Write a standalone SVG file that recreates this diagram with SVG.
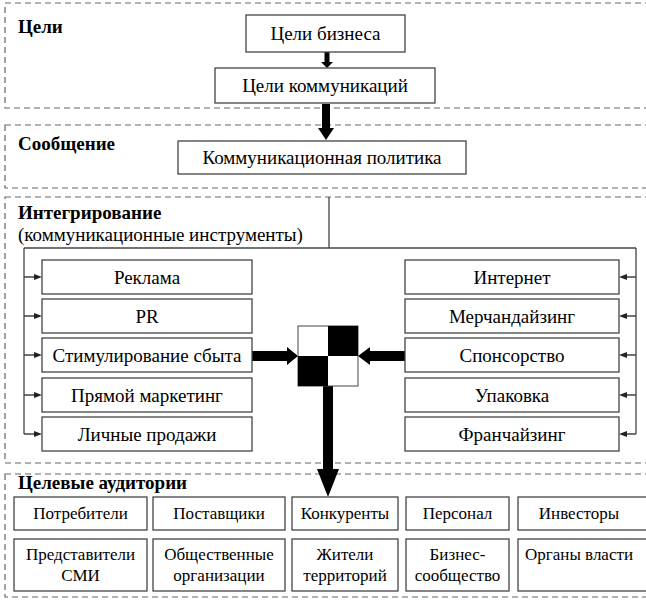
<svg xmlns="http://www.w3.org/2000/svg" width="646" height="601" viewBox="0 0 646 601">
<rect width="646" height="601" fill="#fff"/>

<g id="sections" fill="none" stroke="#666" stroke-width="1.2" stroke-dasharray="6 4">
<rect x="5" y="3" width="660" height="105"/>
<rect x="5" y="125" width="660" height="63"/>
<rect x="5" y="197" width="660" height="266"/>
<rect x="5" y="474" width="660" height="123"/>
</g>

<g id="headers">
<text font-family="Liberation Serif" font-size="19" font-weight="bold" x="18" y="33">Цели</text>
<text font-family="Liberation Serif" font-size="19" font-weight="bold" x="18" y="150">Сообщение</text>
<text font-family="Liberation Serif" font-size="19" font-weight="bold" x="18" y="219">Интегрирование</text>
<text font-family="Liberation Serif" font-size="19" x="18" y="241">(коммуникационные инструменты)</text>
<text font-family="Liberation Serif" font-size="19" font-weight="bold" x="18" y="489">Целевые аудитории</text>
</g>

<g id="connectors">
<g fill="#000">
<polygon points="324.5,52 329.5,52 329.5,62 333,62 327,68 321,62 324.5,62"/>
<polygon points="322,104 330,104 330,128 334,128 326,140 318,128 322,128"/>
<polygon points="252,351 287,351 287,347 298,356 287,365 287,361 252,361"/>
<polygon points="405,351 370,351 370,347 358,356 370,365 370,361 405,361"/>
<polygon points="323,386 333,386 333,469 339,469 328,497 317,469 323,469"/>
</g>
<path fill="none" stroke="#444" stroke-width="1.3" d="M329,197 V248 M24,248 H636 M24,248 V434 M636,248 V434 M24,277 H35 M24,316 H35 M24,355 H35 M24,395 H35 M24,434 H35 M636,277 H626 M636,316 H626 M636,355 H626 M636,395 H626 M636,434 H626"/>
<g fill="#222">
<polygon points="34,274 42,277 34,280"/>
<polygon points="34,313 42,316 34,319"/>
<polygon points="34,352 42,355 34,358"/>
<polygon points="34,392 42,395 34,398"/>
<polygon points="34,431 42,434 34,437"/>
<polygon points="627,274 619,277 627,280"/>
<polygon points="627,313 619,316 627,319"/>
<polygon points="627,352 619,355 627,358"/>
<polygon points="627,392 619,395 627,398"/>
<polygon points="627,431 619,434 627,437"/>
</g>
</g>

<g id="n-goals-business"><rect fill="#fff" stroke="#444" stroke-width="1.3" x="246" y="15" width="159" height="37"/><text font-family="Liberation Serif" font-size="19" text-anchor="middle" x="325.5" y="40">Цели бизнеса</text></g>
<g id="n-goals-comm"><rect fill="#fff" stroke="#444" stroke-width="1.3" x="215" y="68" width="220" height="35"/><text font-family="Liberation Serif" font-size="19" text-anchor="middle" x="325" y="92">Цели коммуникаций</text></g>
<g id="n-policy"><rect fill="#fff" stroke="#444" stroke-width="1.3" x="178" y="141" width="288" height="33"/><text font-family="Liberation Serif" font-size="19" text-anchor="middle" x="322" y="164">Коммуникационная политика</text></g>

<g id="n-ads"><rect fill="#fff" stroke="#444" stroke-width="1.3" x="42" y="260" width="210" height="34"/><text font-family="Liberation Serif" font-size="19" text-anchor="middle" x="147" y="283.5">Реклама</text></g>
<g id="n-pr"><rect fill="#fff" stroke="#444" stroke-width="1.3" x="42" y="299" width="210" height="34"/><text font-family="Liberation Serif" font-size="19" text-anchor="middle" x="147" y="322.5">PR</text></g>
<g id="n-promo"><rect fill="#fff" stroke="#444" stroke-width="1.3" x="42" y="338" width="210" height="34"/><text font-family="Liberation Serif" font-size="19" text-anchor="middle" x="147" y="361.5">Стимулирование сбыта</text></g>
<g id="n-direct"><rect fill="#fff" stroke="#444" stroke-width="1.3" x="42" y="378" width="210" height="34"/><text font-family="Liberation Serif" font-size="19" text-anchor="middle" x="147" y="401.5">Прямой маркетинг</text></g>
<g id="n-personal"><rect fill="#fff" stroke="#444" stroke-width="1.3" x="42" y="417" width="210" height="34"/><text font-family="Liberation Serif" font-size="19" text-anchor="middle" x="147" y="440.5">Личные продажи</text></g>

<g id="n-internet"><rect fill="#fff" stroke="#444" stroke-width="1.3" x="405" y="260" width="214" height="34"/><text font-family="Liberation Serif" font-size="19" text-anchor="middle" x="512" y="283.5">Интернет</text></g>
<g id="n-merch"><rect fill="#fff" stroke="#444" stroke-width="1.3" x="405" y="299" width="214" height="34"/><text font-family="Liberation Serif" font-size="19" text-anchor="middle" x="512" y="322.5">Мерчандайзинг</text></g>
<g id="n-sponsor"><rect fill="#fff" stroke="#444" stroke-width="1.3" x="405" y="338" width="214" height="34"/><text font-family="Liberation Serif" font-size="19" text-anchor="middle" x="512" y="361.5">Спонсорство</text></g>
<g id="n-pack"><rect fill="#fff" stroke="#444" stroke-width="1.3" x="405" y="378" width="214" height="34"/><text font-family="Liberation Serif" font-size="19" text-anchor="middle" x="512" y="401.5">Упаковка</text></g>
<g id="n-franch"><rect fill="#fff" stroke="#444" stroke-width="1.3" x="405" y="417" width="214" height="34"/><text font-family="Liberation Serif" font-size="19" text-anchor="middle" x="512" y="440.5">Франчайзинг</text></g>

<g id="n-hub">
<rect x="298" y="326" width="60" height="60" fill="#fff" stroke="#444" stroke-width="1"/>
<rect x="328" y="326" width="30" height="30" fill="#000"/>
<rect x="298" y="356" width="30" height="30" fill="#000"/>
</g>

<g id="n-consumers"><rect fill="#fff" stroke="#444" stroke-width="1.3" x="14" y="497" width="133" height="33"/><text font-family="Liberation Serif" font-size="17" text-anchor="middle" x="80.5" y="519">Потребители</text></g>
<g id="n-suppliers"><rect fill="#fff" stroke="#444" stroke-width="1.3" x="153" y="497" width="132" height="33"/><text font-family="Liberation Serif" font-size="17" text-anchor="middle" x="219" y="519">Поставщики</text></g>
<g id="n-competitors"><rect fill="#fff" stroke="#444" stroke-width="1.3" x="292" y="497" width="106" height="33"/><text font-family="Liberation Serif" font-size="17" text-anchor="middle" x="345" y="519">Конкуренты</text></g>
<g id="n-staff"><rect fill="#fff" stroke="#444" stroke-width="1.3" x="406" y="497" width="103" height="33"/><text font-family="Liberation Serif" font-size="17" text-anchor="middle" x="457.5" y="519">Персонал</text></g>
<g id="n-investors"><rect fill="#fff" stroke="#444" stroke-width="1.3" x="518" y="497" width="140" height="33"/><text font-family="Liberation Serif" font-size="17" text-anchor="middle" x="579" y="519">Инвесторы</text></g>

<g id="n-media"><rect fill="#fff" stroke="#444" stroke-width="1.3" x="14" y="539" width="133" height="52"/><text font-family="Liberation Serif" font-size="17" text-anchor="middle" x="80.5" y="560">Представители</text><text font-family="Liberation Serif" font-size="17" text-anchor="middle" x="80.5" y="581">СМИ</text></g>
<g id="n-public"><rect fill="#fff" stroke="#444" stroke-width="1.3" x="153" y="539" width="132" height="52"/><text font-family="Liberation Serif" font-size="17" text-anchor="middle" x="219" y="560">Общественные</text><text font-family="Liberation Serif" font-size="17" text-anchor="middle" x="219" y="581">организации</text></g>
<g id="n-residents"><rect fill="#fff" stroke="#444" stroke-width="1.3" x="292" y="539" width="106" height="52"/><text font-family="Liberation Serif" font-size="17" text-anchor="middle" x="345" y="560">Жители</text><text font-family="Liberation Serif" font-size="17" text-anchor="middle" x="345" y="581">территорий</text></g>
<g id="n-business"><rect fill="#fff" stroke="#444" stroke-width="1.3" x="406" y="539" width="103" height="52"/><text font-family="Liberation Serif" font-size="17" text-anchor="middle" x="457.5" y="560">Бизнес-</text><text font-family="Liberation Serif" font-size="17" text-anchor="middle" x="457.5" y="581">сообщество</text></g>
<g id="n-authorities"><rect fill="#fff" stroke="#444" stroke-width="1.3" x="518" y="539" width="140" height="52"/><text font-family="Liberation Serif" font-size="17" text-anchor="middle" x="579" y="560">Органы власти</text></g>
</svg>
